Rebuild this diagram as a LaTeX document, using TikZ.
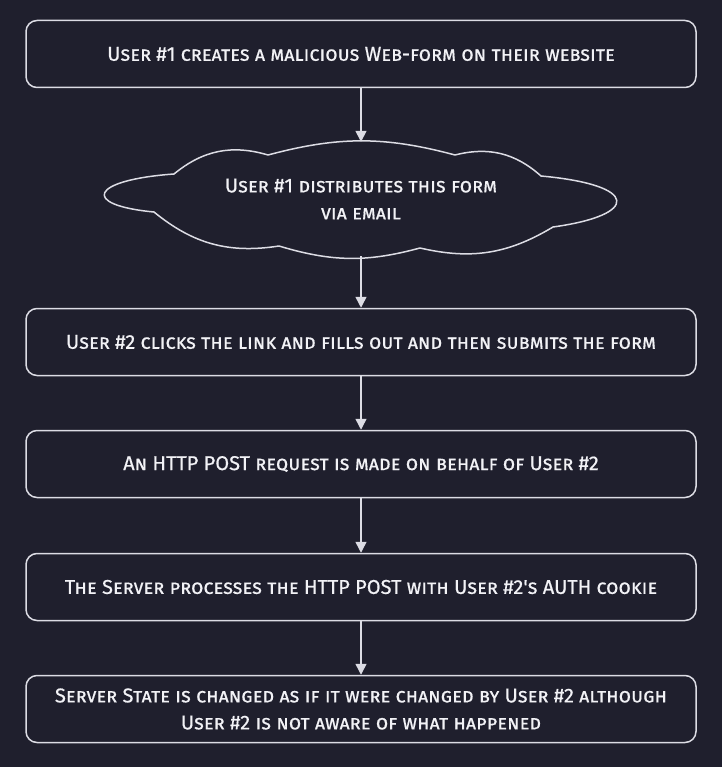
\documentclass[tikz,border=0pt]{standalone}
\usepackage{fontspec}
\setmainfont{Fira Sans}
\newfontfamily\sketchfont{Fira Sans}[FakeBold=0.6]
\usepackage{tikz}
\usetikzlibrary{positioning, arrows.meta}

\definecolor{bgcol}{HTML}{1F1F2D}
\definecolor{linecol}{HTML}{DCDCE4}
\definecolor{textcol}{HTML}{F2F2F6}

\tikzset{
	stepbox/.style={draw=linecol, line width=1.5pt, rounded corners=11pt,
		minimum width=670pt, minimum height=67pt, text=textcol, align=center,
		font=\sketchfont\fontsize{20}{27}\selectfont\scshape},
	mailcloud/.style={inner sep=0pt, minimum width=517pt, minimum height=114pt,
		text=textcol, align=center, font=\sketchfont\fontsize{20}{27}\selectfont\scshape},
	puffline/.style={draw=linecol, line width=1.5pt, line join=round},
	flow/.style={draw=linecol, line width=1.5pt, -{Triangle[width=11pt,length=11pt]}}
}

\begin{document}
\begin{tikzpicture}[x=1pt, y=-1pt]
	\fill[bgcol] (0,0) rectangle (722,767);
	\useasboundingbox (0,0) rectangle (722,767);

	% cloud outline
	\draw[puffline] (174,174) to[bend left=28] (268,155)
		to[bend left=15] (455,155)
		to[bend left=28] (541,176)
		.. controls (640,185) and (640,215) .. (553,227)
		to[bend left=22] (420,248)
		to[bend left=16] (279,246)
		to[bend left=24] (154,212)
		.. controls (80,205) and (90,180) .. (174,174);

	\node[stepbox] (create) at (361,54) {User \#1 creates a malicious Web-form on their website};
	\node[mailcloud] (mail) at (361,199) {User \#1 distributes this form\\via email};
	\node[stepbox] (submit) at (361,342) {User \#2 clicks the link and fills out and then submits the form};
	\node[stepbox] (post) at (361,464) {An HTTP POST request is made on behalf of User \#2};
	\node[stepbox] (server) at (361,587) {The Server processes the HTTP POST with User \#2's AUTH cookie};
	\node[stepbox] (state) at (361,709) {Server State is changed as if it were changed by User \#2 although\\User \#2 is not aware of what happened};

	\draw[flow] (create) -- (mail);
	\draw[flow] (mail) -- (submit);
	\draw[flow] (submit) -- (post);
	\draw[flow] (post) -- (server);
	\draw[flow] (server) -- (state);
\end{tikzpicture}
\end{document}
